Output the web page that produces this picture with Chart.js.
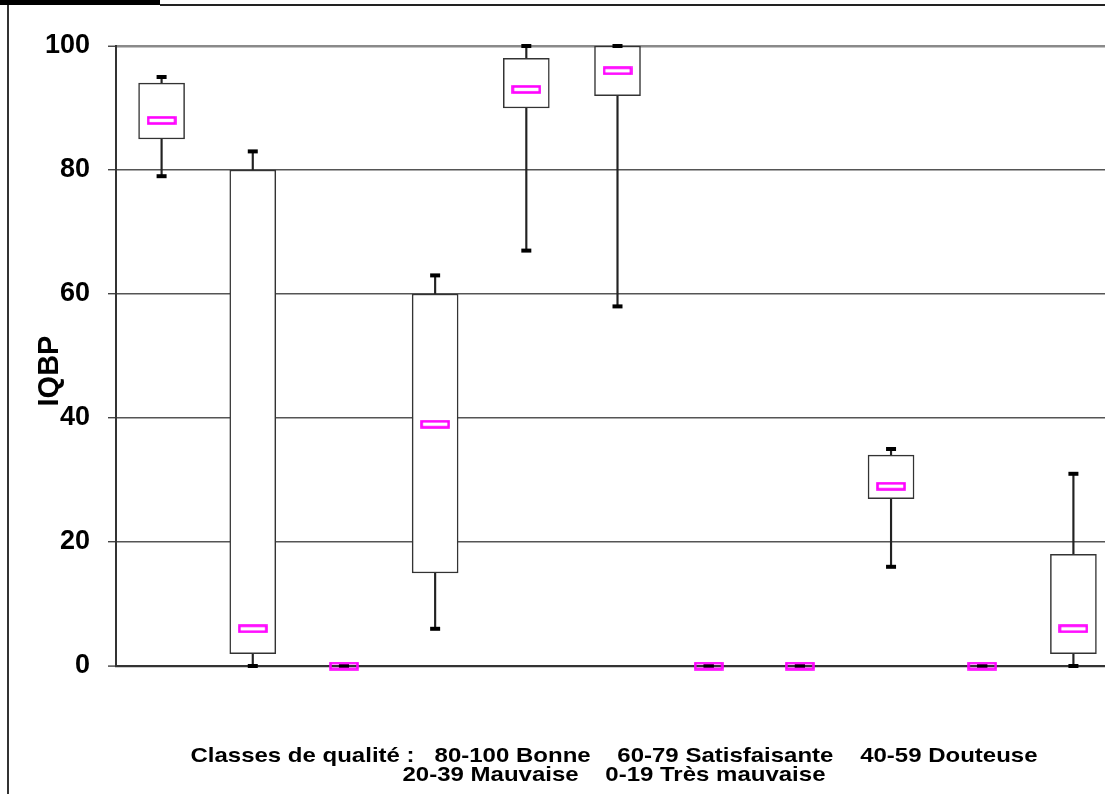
<!DOCTYPE html>
<html lang="fr">
<head>
<meta charset="utf-8">
<title>IQBP – distribution par station</title>
<script src="https://cdn.jsdelivr.net/npm/chart.js@4.4.1/dist/chart.umd.min.js"></script>
<style>
  html, body { margin: 0; padding: 0; background: #fff; overflow: hidden; }
  #page { position: relative; width: 1105px; height: 794px; overflow: hidden; }
  .topbar { position: absolute; left: 0; top: 0; width: 160px; height: 5px; background: #000; }
  .topline { position: absolute; left: 160px; top: 4px; width: 945px; height: 1.5px; background: #222; }
  .leftline { position: absolute; left: 7px; top: 5px; width: 1.5px; height: 789px; background: #333; }
  #chart { position: absolute; left: 0; top: 0; }
</style>
</head>
<body>
<div id="page">
  <div class="topbar"></div>
  <div class="topline"></div>
  <div class="leftline"></div>
  <canvas id="chart" width="1128" height="794"></canvas>
</div>
<script>
// Stations (not labelled on the axis)
const categories = ['1', '2', '3', '4', '5', '6', '7', '8', '9', '10', '11'];

// Box-plot statistics of the IQBP index for each station
const whiskerLow  = [79,  0, 0,  6,  67,  58, 0, 0, 16, 0,  0];
const q1          = [85,  2, 0, 15,  90,  92, 0, 0, 27, 0,  2];
const median      = [88,  6, 0, 39,  93,  96, 0, 0, 29, 0,  6];
const q3          = [94, 80, 0, 60,  98, 100, 0, 0, 34, 0, 18];
const whiskerHigh = [95, 83, 0, 63, 100, 100, 0, 0, 35, 0, 31];

// Value axis
const yTicks = [0, 20, 40, 60, 80, 100];
const yTitle = 'IQBP';

// Quality classes shown under the plot
const footnoteLines = [
  'Classes de qualité :   80-100 Bonne    60-79 Satisfaisante    40-59 Douteuse',
  '20-39 Mauvaise    0-19 Très mauvaise'
];

const FONT = '"Liberation Sans", Arial, sans-serif';

// Median marker: small magenta outlined rectangle
const medianMark = document.createElement('canvas');
medianMark.width = 30;
medianMark.height = 9;
(function () {
  const c = medianMark.getContext('2d');
  c.strokeStyle = '#ff00ff';
  c.lineWidth = 2.6;
  c.strokeRect(1.5, 1.5, 27, 6);
})();

// Axis title and class legend, drawn in the chart's own font
const textPlugin = {
  id: 'texts',
  afterDraw(chart) {
    const ctx = chart.ctx;
    const area = chart.chartArea;
    ctx.save();
    ctx.fillStyle = '#000';

    // rotated value-axis title
    ctx.save();
    ctx.translate(50, (area.top + area.bottom) / 2 + 15);
    ctx.rotate(-Math.PI / 2);
    ctx.font = 'bold 29px ' + FONT;
    ctx.textAlign = 'center';
    ctx.textBaseline = 'middle';
    ctx.fillText(yTitle, 0, 0);
    ctx.restore();

    // quality classes, two centred lines in a wide bold face
    ctx.font = 'bold 21px ' + FONT;
    ctx.textAlign = 'center';
    ctx.textBaseline = 'alphabetic';
    const cx = 614;
    [762, 781].forEach((y, i) => {
      ctx.save();
      ctx.translate(cx, y);
      ctx.scale(1.143, 1);
      ctx.fillText(footnoteLines[i], 0, 0);
      ctx.restore();
    });
    ctx.restore();
  }
};

new Chart(document.getElementById('chart'), {
  type: 'bar',
  data: {
    labels: categories,
    datasets: [
      {
        type: 'line',
        label: 'Médiane',
        data: median,
        showLine: false,
        pointStyle: medianMark,
        pointRadius: 4,
        clip: false,
        order: 0
      },
      {
        type: 'line',
        label: 'Minimum',
        data: whiskerLow,
        showLine: false,
        pointStyle: 'line',
        pointRadius: 5,
        pointBorderWidth: 4,
        pointBorderColor: '#000',
        clip: false,
        order: 1
      },
      {
        type: 'line',
        label: 'Maximum',
        data: whiskerHigh,
        showLine: false,
        pointStyle: 'line',
        pointRadius: 5,
        pointBorderWidth: 4,
        pointBorderColor: '#000',
        clip: false,
        order: 1
      },
      {
        label: 'Quartiles',
        data: categories.map((_, i) => [q1[i], q3[i]]),
        backgroundColor: '#fff',
        borderColor: '#333',
        borderWidth: 1.5,
        borderSkipped: false,
        barThickness: 46,
        grouped: false,
        clip: false,
        order: 2
      },
      {
        label: 'Moustache basse',
        data: categories.map((_, i) => [whiskerLow[i], q1[i]]),
        backgroundColor: '#222',
        barThickness: 1.5,
        grouped: false,
        order: 3
      },
      {
        label: 'Moustache haute',
        data: categories.map((_, i) => [q3[i], whiskerHigh[i]]),
        backgroundColor: '#222',
        barThickness: 1.5,
        grouped: false,
        order: 3
      }
    ]
  },
  options: {
    responsive: false,
    animation: false,
    events: [],
    layout: { padding: { left: 0, right: 0, top: 46, bottom: 128 } },
    plugins: {
      legend: { display: false },
      tooltip: { enabled: false },
      title: { display: false }
    },
    scales: {
      x: {
        grid: { display: false },
        border: { display: false },
        ticks: { display: false },
        afterFit(scale) { scale.height = 0; }
      },
      y: {
        min: 0,
        max: 100,
        afterBuildTicks(scale) { scale.ticks = yTicks.map(v => ({ value: v })); },
        afterFit(scale) { scale.width = 116; },
        border: { display: true, color: '#333', width: 2 },
        grid: {
          drawTicks: true,
          tickLength: 8,
          color: ctx => ctx.tick && ctx.tick.value === 100 ? '#8a8a8a' : (ctx.tick && ctx.tick.value === 0 ? '#333' : '#555'),
          lineWidth: ctx => ctx.tick && ctx.tick.value === 100 ? 2.5 : (ctx.tick && ctx.tick.value === 0 ? 2.2 : 1.4),
          tickColor: '#444',
          tickWidth: 1.4
        },
        ticks: {
          color: '#000',
          padding: 18,
          font: { family: FONT, size: 27, weight: 'bold' }
        },
        title: { display: false }
      }
    }
  },
  plugins: [textPlugin]
});
</script>
</body>
</html>
